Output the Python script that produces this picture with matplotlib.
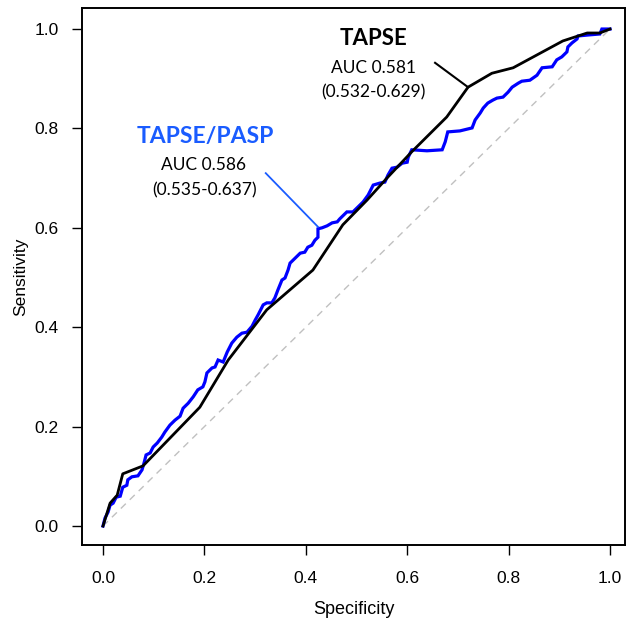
import matplotlib
matplotlib.use("Agg")
import matplotlib.pyplot as plt
import numpy as np

# TAPSE ROC curve (x: plotted "Specificity", y: Sensitivity)
tapse_x = [0.000, 0.014, 0.028, 0.039, 0.079, 0.191, 0.247, 0.323, 0.414, 0.473,
           0.521, 0.560, 0.609, 0.678, 0.720, 0.767, 0.809, 0.907, 0.955, 0.980, 1.000]
tapse_y = [0.000, 0.046, 0.062, 0.105, 0.121, 0.239, 0.334, 0.435, 0.515, 0.606,
           0.656, 0.700, 0.753, 0.823, 0.883, 0.911, 0.922, 0.976, 0.992, 0.992, 1.000]

# TAPSE/PASP ROC curve
ratio_x = [0.000, 0.004, 0.010, 0.014, 0.020, 0.026, 0.034, 0.039, 0.047, 0.049,
           0.057, 0.069, 0.077, 0.081, 0.085, 0.093, 0.099, 0.107, 0.116, 0.122,
           0.132, 0.142, 0.152, 0.158, 0.168, 0.178, 0.187, 0.197, 0.201, 0.205,
           0.215, 0.221, 0.227, 0.237, 0.245, 0.250, 0.254, 0.264, 0.274, 0.284,
           0.294, 0.300, 0.306, 0.316, 0.323, 0.333, 0.339, 0.345, 0.353, 0.359,
           0.365, 0.369, 0.379, 0.389, 0.398, 0.404, 0.412, 0.418, 0.424, 0.424,
           0.432, 0.442, 0.452, 0.462, 0.467, 0.481, 0.493, 0.503, 0.513, 0.523,
           0.533, 0.546, 0.556, 0.562, 0.570, 0.580, 0.590, 0.600, 0.602, 0.609,
           0.639, 0.669, 0.675, 0.680, 0.704, 0.728, 0.734, 0.744, 0.750, 0.759,
           0.769, 0.777, 0.789, 0.799, 0.807, 0.819, 0.826, 0.842, 0.856, 0.866,
           0.886, 0.895, 0.905, 0.915, 0.917, 0.925, 0.935, 0.937, 0.957, 0.980,
           0.984, 1.000]
ratio_y = [0.000, 0.016, 0.028, 0.042, 0.046, 0.058, 0.060, 0.078, 0.082, 0.093,
           0.099, 0.101, 0.113, 0.127, 0.143, 0.147, 0.159, 0.167, 0.179, 0.189,
           0.203, 0.213, 0.221, 0.237, 0.247, 0.260, 0.274, 0.280, 0.290, 0.308,
           0.318, 0.320, 0.334, 0.330, 0.350, 0.360, 0.368, 0.380, 0.388, 0.390,
           0.402, 0.414, 0.425, 0.445, 0.449, 0.449, 0.459, 0.475, 0.495, 0.499,
           0.515, 0.529, 0.539, 0.549, 0.551, 0.561, 0.565, 0.575, 0.581, 0.598,
           0.600, 0.604, 0.610, 0.612, 0.618, 0.632, 0.632, 0.642, 0.652, 0.666,
           0.686, 0.690, 0.692, 0.706, 0.720, 0.722, 0.730, 0.732, 0.742, 0.757,
           0.755, 0.757, 0.773, 0.793, 0.795, 0.801, 0.817, 0.831, 0.841, 0.851,
           0.857, 0.861, 0.863, 0.873, 0.883, 0.891, 0.895, 0.897, 0.907, 0.922,
           0.924, 0.938, 0.944, 0.954, 0.964, 0.972, 0.980, 0.986, 0.988, 0.990,
           1.000, 1.000]

ticks = [0.0, 0.2, 0.4, 0.6, 0.8, 1.0]
tick_labels = ["0.0", "0.2", "0.4", "0.6", "0.8", "1.0"]

tapse_title = "TAPSE"
tapse_auc = "AUC 0.581"
tapse_ci = "(0.532-0.629)"
ratio_title = "TAPSE/PASP"
ratio_auc = "AUC 0.586"
ratio_ci = "(0.535-0.637)"

fig = plt.figure(figsize=(6.26, 6.23), dpi=100)
ax = fig.add_axes([82/626, (623-545)/623, 543/626, 537/623])

ax.plot([0, 1], [0, 1], color="#c0c0c0", lw=1.0, ls=(0, (5, 4)), zorder=1)
ax.plot(tapse_x, tapse_y, color="black", lw=2.0, zorder=3, solid_joinstyle="round")
ax.plot(ratio_x, ratio_y, color="#0000ff", lw=2.3, zorder=2, solid_joinstyle="miter")

ax.set_xlim(-0.0414, 1.0296)
ax.set_ylim(-0.0382, 1.0423)
ax.set_xticks(ticks)
ax.set_xticklabels(tick_labels)
ax.set_yticks(ticks)
ax.set_yticklabels(tick_labels)
tick_font = "Liberation Sans"
for lab in ax.get_xticklabels() + ax.get_yticklabels():
    lab.set_family(tick_font)
    lab.set_fontsize(12.5)
ax.tick_params(axis="x", direction="out", length=7, width=1.0, pad=12, colors="black")
ax.tick_params(axis="y", direction="out", length=7, width=1.0, pad=10, colors="black")
for sp in ax.spines.values():
    sp.set_linewidth(1.4)

ax.set_xlabel("Specificity", family=tick_font, fontsize=13)
ax.set_ylabel("Sensitivity", family=tick_font, fontsize=12.5)
ax.xaxis.set_label_coords(0.5, -0.104)
ax.yaxis.set_label_coords(-0.10, 0.5)

blue_txt = "#1a5cff"
lbl_font = "Lato"
ax.text(0.533, 0.980, tapse_title, ha="center", va="center", fontsize=16,
        fontweight="bold", family=lbl_font, color="black")
ax.text(0.533, 0.922, tapse_auc, ha="center", va="center", fontsize=12.5,
        family=lbl_font, color="black")
ax.text(0.533, 0.873, tapse_ci, ha="center", va="center", fontsize=12.5,
        family=lbl_font, color="black")
ax.plot([0.655, 0.720], [0.932, 0.883], color="black", lw=1.5, zorder=4)

ax.text(0.201, 0.783, ratio_title, ha="center", va="center", fontsize=16.5,
        fontweight="bold", family=lbl_font, color=blue_txt)
ax.text(0.199, 0.726, ratio_auc, ha="center", va="center", fontsize=12.5,
        family=lbl_font, color="black")
ax.text(0.201, 0.676, ratio_ci, ha="center", va="center", fontsize=12.5,
        family=lbl_font, color="black")
ax.plot([0.321, 0.424], [0.710, 0.602], color=blue_txt, lw=1.3, zorder=4)

fig.savefig("out.png", dpi=100)
